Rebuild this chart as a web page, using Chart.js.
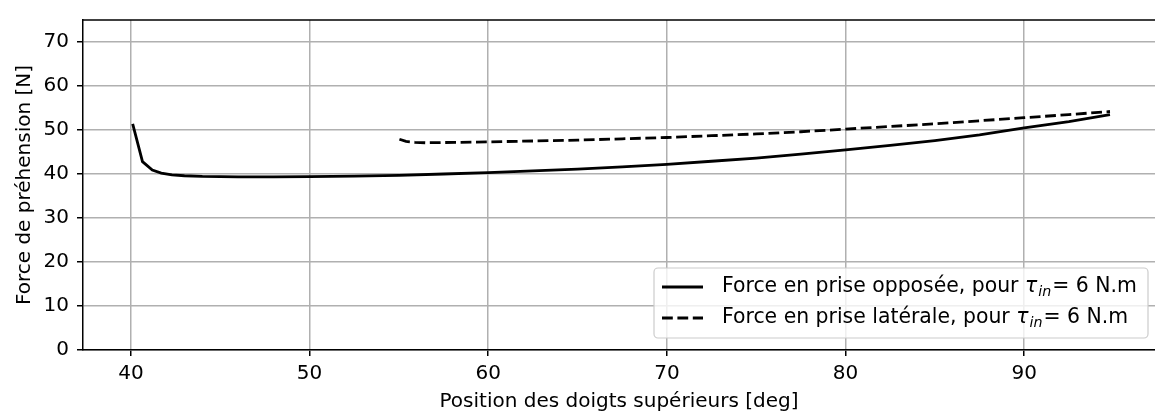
<!DOCTYPE html>
<html>
<head>
<meta charset="utf-8">
<script src="https://cdn.jsdelivr.net/npm/chart.js@4.4.1/dist/chart.umd.min.js"></script>
<style>
  html, body { margin: 0; padding: 0; background: #fff; }
</style>
</head>
<body>
<canvas id="chart" width="1155" height="414"></canvas>
<script>
// opposed grip (solid)
const opposedX = [40.1, 40.65, 41.2, 41.7, 42.3, 43, 44, 46, 48, 50, 52.5, 55, 57.5, 60, 62.5, 65, 67.5, 70,
  72.5, 75, 77.5, 80, 82.5, 85, 87.5, 90, 92.5, 94.8];
const opposedY = [51.4, 42.8, 40.9, 40.2, 39.8, 39.6, 39.45, 39.35, 39.35, 39.4, 39.5, 39.7, 40.0, 40.3, 40.7, 41.1, 41.6, 42.2,
  42.9, 43.6, 44.5, 45.5, 46.5, 47.6, 48.9, 50.5, 51.9, 53.5];

// lateral grip (dashed)
const lateralX = [55.03, 55.4, 55.9, 56.5, 57.5, 60, 62.5, 65, 67.5, 70, 72.5, 75, 77.5, 80, 82.5, 85, 87.5, 90, 92.5, 94.8];
const lateralY = [47.9, 47.4, 47.2, 47.1, 47.15, 47.3, 47.5, 47.7, 48.0, 48.3, 48.7, 49.1, 49.6, 50.2, 50.8, 51.4, 52.1, 52.8, 53.5, 54.2];

const xTicks = [40, 50, 60, 70, 80, 90];
const yTicks = [0, 10, 20, 30, 40, 50, 60, 70];

const legendLabels = [
  { before: "Force en prise opposée, pour ", after: "= 6 N.m", dash: [] },
  { before: "Force en prise latérale, pour ", after: "= 6 N.m", dash: [10.8, 4.6] },
];

const FONT = "'DejaVu Sans', sans-serif";
const FS = 20;
const LEG_FS = 20.4;

const toPoints = (xs, ys) => xs.map((x, i) => ({ x: x, y: ys[i] }));

// matplotlib-like inner legend + top spine
const extras = {
  id: "extras",
  afterDraw(chart) {
    const { ctx, chartArea } = chart;
    ctx.save();
    ctx.strokeStyle = "#000";
    ctx.lineWidth = 1.5;
    ctx.beginPath();
    ctx.moveTo(chartArea.left, chartArea.top);
    ctx.lineTo(chartArea.right, chartArea.top);
    ctx.stroke();

    // legend box
    const bx = 654, by = 268, bw = 494, bh = 70, r = 4;
    ctx.beginPath();
    ctx.roundRect(bx, by, bw, bh, r);
    ctx.fillStyle = "rgba(255,255,255,0.8)";
    ctx.fill();
    ctx.strokeStyle = "#cccccc";
    ctx.lineWidth = 1.2;
    ctx.stroke();

    legendLabels.forEach((item, i) => {
      const y = 287 + i * 31;
      ctx.beginPath();
      ctx.setLineDash(item.dash);
      ctx.strokeStyle = "#000";
      ctx.lineWidth = 2.8;
      ctx.moveTo(662, y);
      ctx.lineTo(703, y);
      ctx.stroke();
      ctx.setLineDash([]);

      ctx.fillStyle = "#000";
      ctx.textBaseline = "middle";
      ctx.textAlign = "left";
      ctx.font = LEG_FS + "px " + FONT;
      let x = 722;
      ctx.fillText(item.before, x, y);
      x += ctx.measureText(item.before).width;
      ctx.font = "italic " + LEG_FS + "px " + FONT;
      ctx.fillText("τ", x, y);
      x += ctx.measureText("τ").width + 1;
      ctx.font = "italic " + (LEG_FS * 0.7) + "px " + FONT;
      ctx.fillText("in", x, y + 5);
      x += ctx.measureText("in").width + 1;
      ctx.font = LEG_FS + "px " + FONT;
      ctx.fillText(item.after, x, y);
    });
    ctx.restore();
  }
};

Chart.defaults.font.family = FONT;
Chart.defaults.font.size = FS;
Chart.defaults.color = "#000";

new Chart(document.getElementById("chart"), {
  type: "line",
  data: {
    datasets: [
      {
        data: toPoints(opposedX, opposedY),
        borderColor: "#000",
        borderWidth: 2.8,
        pointRadius: 0,
        tension: 0,
      },
      {
        data: toPoints(lateralX, lateralY),
        borderColor: "#000",
        borderWidth: 2.8,
        borderDash: [10.8, 4.6],
        pointRadius: 0,
        tension: 0,
      },
    ],
  },
  options: {
    responsive: false,
    animation: false,
    devicePixelRatio: 1,
    layout: { padding: { top: 13, right: 0, left: 0, bottom: 0 } },
    plugins: {
      legend: { display: false },
      tooltip: { enabled: false },
    },
    scales: {
      x: {
        type: "linear",
        min: 37.32,
        max: 97.32,
        afterBuildTicks: (s) => { s.ticks = xTicks.map((v) => ({ value: v })); },
        afterFit: (s) => { s.height = 64; },
        grid: { color: "#b0b0b0", lineWidth: 1.5, tickColor: "#000", tickLength: 6, tickWidth: 1.5 },
        border: { color: "#000", width: 1.5 },
        ticks: { padding: 6, maxRotation: 0, color: "#000" },
        title: { display: true, text: "Position des doigts supérieurs [deg]", padding: { top: 0, bottom: 0 }, color: "#000" },
      },
      y: {
        min: 0,
        max: 75,
        afterBuildTicks: (s) => { s.ticks = yTicks.map((v) => ({ value: v })); },
        afterFit: (s) => { s.width = 83; },
        grid: { color: "#b0b0b0", lineWidth: 1.5, tickColor: "#000", tickLength: 6, tickWidth: 1.5 },
        border: { color: "#000", width: 1.5 },
        ticks: { padding: 8, color: "#000" },
        title: { display: true, text: "Force de préhension [N]", padding: { top: 13, bottom: 0 }, color: "#000" },
      },
    },
  },
  plugins: [extras],
});
</script>
</body>
</html>
